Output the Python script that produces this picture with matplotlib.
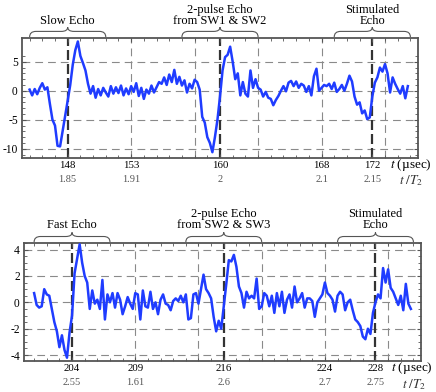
import numpy as np
import matplotlib
matplotlib.use("Agg")
import matplotlib.pyplot as plt
from matplotlib.path import Path
from matplotlib.patches import PathPatch
from matplotlib.transforms import blended_transform_factory

plt.rcParams["font.family"] = ["Liberation Serif", "DejaVu Serif"]
plt.rcParams["mathtext.fontset"] = "stix"
plt.rcParams["axes.unicode_minus"] = False

# top trace (slow echo), sampled every 0.2 usec from 145.0
top_v = [0.2, -0.8, 0.3, -0.6, 0.5, 1.3, 0.2, 0.6, -2.3, -5.0,
         -6.0, -9.5, -9.6, -7.0, -4.5, -1.7, 1.0, 4.5, 7.0, 8.5,
         6.0, 4.8, 3.5, 1.2, -0.5, 0.8, -1.2, 0.3, -0.8, 0.5,
         -0.3, -1.0, 0.8, -0.5, 0.6, -0.4,
         0.9, -0.8, 0.4, -0.6, 0.8, -0.2, 1.3, -0.9, 0.5, -1.4,
         0.2, -0.5, 0.9, -0.3, 0.6, 1.5, 1.2, 2.3, 1.0, 2.8,
         1.5, 3.6, 1.2, 2.4, 0.9, 1.8, -0.3, 1.2, 0.4, 1.9,
         1.5, 0.2, -4.5, -5.5, -8.0, -9.0, -10.6, -8.0, -5.0,
         -1.0, 3.5, 5.8, 6.2, 7.6, 5.0, 2.0, 3.0, -0.8, 1.5,
         -0.5, -1.0, 3.5, 0.5, 2.0, 0.5, 0.2, -1.0, -0.2, -1.2,
         -1.4, -2.5, -1.6, -0.9, 0.0, 0.8, -0.1, 1.4, 1.7, 0.8,
         1.6, 0.5, 1.2, 0.9, -0.2, 0.8, -0.8, 2.5,
         3.8, 0.0, 0.5, 1.0, 0.8, 1.2, 0.3, 1.4, -0.2, 0.3,
         1.0, 0.0, 1.2, 2.6, 1.6, -1.0, -2.4, -2.0, -3.9, -3.4,
         -4.9, -4.6, -1.0, 1.4, 2.3, 4.0, 3.3, 4.6, 3.0, -0.3,
         2.3, 1.2, 0.3, -0.5, 0.8, -1.3, 0.8]
top_t = np.linspace(145.0, 174.8, len(top_v))

# bottom trace (fast echo), sampled every 0.2 usec from 201.0
bot_v = [0.7, -0.2, -0.4, -0.3, 1.0, 0.6, 0.5, -0.5, -1.5, -2.2,
         -3.4, -2.5, -3.6, -4.2, -2.3, -1.0, 2.2, 3.3, 4.4, 3.0,
         2.0, 1.5, -0.5, 0.9, -0.1, 0.2, -0.5, 1.7, -1.3, 0.6,
         0.0, 0.7, -0.4, 0.7, 0.2, -0.9,
         -0.3, 0.4, -0.1, -0.5, 0.7, 0.6, -1.3, 0.9, -0.3, -0.4,
         0.8, -0.5, 0.0, -0.9, 0.2, 0.6, -0.1, -0.2, -0.6, 0.1,
         0.3, 0.1, 0.5, 0.0, 0.6, -1.3, -1.2, 0.6, 0.7, -0.1,
         1.0, 2.1, 1.0, 0.7, 0.3, -1.1, -2.2,
         -1.4, -2.0, -0.3, 1.4, 3.2, 3.1, 3.6, 2.7, 1.2, 0.7,
         -0.4, 0.8, 0.3, 0.5, 0.3, 1.8, -0.5, -0.3, 0.7, 0.5,
         -0.3, 0.5, -0.8, 0.7, -0.3, 0.8, -0.8, 0.2, 0.6, -0.4,
         1.2, 0.0, 0.3, 0.7, -0.4, 0.3, 0.3, 0.1,
         -1.1, 0.0, 0.3, 0.6, 1.5, 0.7, 0.5, 0.2, -0.7, 0.5,
         0.8, 0.6, -0.6, 0.0, 0.2, -0.6, -1.3, -1.5, -1.8, -2.6,
         -2.8, -2.0, -2.4, -0.8, 0.0, 0.6, 0.3, 2.6, 1.5, 2.5,
         1.1, 0.8, 0.3, -0.2, 0.5, -0.6, 1.4, -0.1, -0.5]
bot_t = np.linspace(201.0, 230.8, len(bot_v))

top_ticks = [148, 153, 160, 168, 172]
top_ratio = ["1.85", "1.91", "2", "2.1", "2.15"]
top_echo = [148, 160, 172]
top_grid = [153, 158, 163, 168, 173]
top_yticks = [-10, -5, 0, 5]
top_names = ["Slow Echo", "2-pulse Echo\nfrom SW1 & SW2", "Stimulated\nEcho"]

bot_ticks = [204, 209, 216, 224, 228]
bot_ratio = ["2.55", "1.61", "2.6", "2.7", "2.75"]
bot_echo = [204, 216, 228]
bot_grid = [209, 214, 219, 224, 229]
bot_yticks = [-4, -2, 0, 2, 4]
bot_names = ["Fast Echo", "2-pulse Echo\nfrom SW2 & SW3", "Stimulated\nEcho"]


def brace(ax, c, half=3.0, r=0.5, y0=1.008, y1=1.055, y2=1.09):
    tr = blended_transform_factory(ax.transData, ax.transAxes)
    verts = [(c - half, y0), (c - half, y1), (c - half + r, y1),
             (c - r, y1), (c, y1), (c, y2),
             (c, y1), (c + r, y1),
             (c + half - r, y1), (c + half, y1), (c + half, y0)]
    codes = [Path.MOVETO, Path.CURVE3, Path.CURVE3,
             Path.LINETO, Path.CURVE3, Path.CURVE3,
             Path.CURVE3, Path.CURVE3,
             Path.LINETO, Path.CURVE3, Path.CURVE3]
    ax.add_patch(PathPatch(Path(verts, codes), fill=False, edgecolor="#555555",
                           lw=0.8, transform=tr, clip_on=False))


def panel(ax, t, v, ticks, ratio, echo, grid, yticks, names, xlim, ylim, ymin,
          name_y, ratio_y):
    for y in yticks:
        ax.axhline(y, color="#8a8a8a", lw=0.8, ls=(0, (7, 4.5)), zorder=1)
    for x in grid:
        ax.axvline(x, color="#8a8a8a", lw=0.8, ls=(0, (7, 4.5)), zorder=1)
    for x in echo:
        ax.axvline(x, color="#333333", lw=1.6, ls=(0, (4.5, 1.8)), zorder=1)
    ax.plot(t, v, color="#1f3cff", lw=1.8, zorder=3)
    ax.set_xlim(*xlim)
    ax.set_ylim(*ylim)
    ax.set_xticks(ticks)
    ax.set_xticklabels([str(k) for k in ticks])
    ax.set_xticks(np.arange(int(xlim[0]) + 1, xlim[1], 1), minor=True)
    ax.set_yticks(yticks)
    ax.set_yticks(np.arange(yticks[0] - 2 * ymin, yticks[-1] + 2 * ymin, ymin), minor=True)
    ax.set_ylim(*ylim)
    ax.tick_params(which="both", direction="in", top=True, right=True,
                   color="#555555", pad=2.5)
    ax.tick_params(axis="x", labelsize=7.8)
    ax.tick_params(axis="y", labelsize=8.3, pad=3)
    ax.tick_params(which="major", length=3)
    ax.tick_params(which="minor", length=2)
    for s in ax.spines.values():
        s.set_color("#555555")
        s.set_linewidth(1.3)
    tr = blended_transform_factory(ax.transData, ax.transAxes)
    for x, lab in zip(ticks, ratio):
        ax.text(x, ratio_y, lab, transform=tr, ha="center", va="center",
                fontsize=7.5, color="#555555")
    for x, lab in zip(echo, names):
        brace(ax, x)
        ax.text(x, name_y, lab, transform=tr, ha="center", va="bottom",
                fontsize=9, linespacing=0.95)


fig = plt.figure(figsize=(4.36, 3.92), dpi=100)
ax1 = fig.add_axes([22 / 436, 1 - 158 / 392, 396 / 436, 120 / 392])
ax2 = fig.add_axes([24 / 436, 1 - 361 / 392, 397 / 436, 118 / 392])

panel(ax1, top_t, top_v, top_ticks, top_ratio, top_echo, top_grid, top_yticks,
      top_names, (144.4, 175.6), (-11.6, 9.1), 1, 1.09, -0.178)
panel(ax2, bot_t, bot_v, bot_ticks, bot_ratio, bot_echo, bot_grid, bot_yticks,
      bot_names, (200.2, 231.6), (-4.45, 4.5), 0.5, 1.10, -0.185)

ax1.text(0.982, -0.058, r"$t$ (µsec)", transform=ax1.transAxes, ha="center", va="center", fontsize=9.5)
ax1.text(0.982, -0.19, r"$t\ /T_2$", transform=ax1.transAxes, ha="center", va="center", fontsize=9.5, color="#333333")
ax2.text(0.977, -0.06, r"$t$ (µsec)", transform=ax2.transAxes, ha="center", va="center", fontsize=9.5)
ax2.text(0.984, -0.2, r"$t\ /T_2$", transform=ax2.transAxes, ha="center", va="center", fontsize=9.5, color="#333333")

fig.savefig("out.png", dpi=100)
